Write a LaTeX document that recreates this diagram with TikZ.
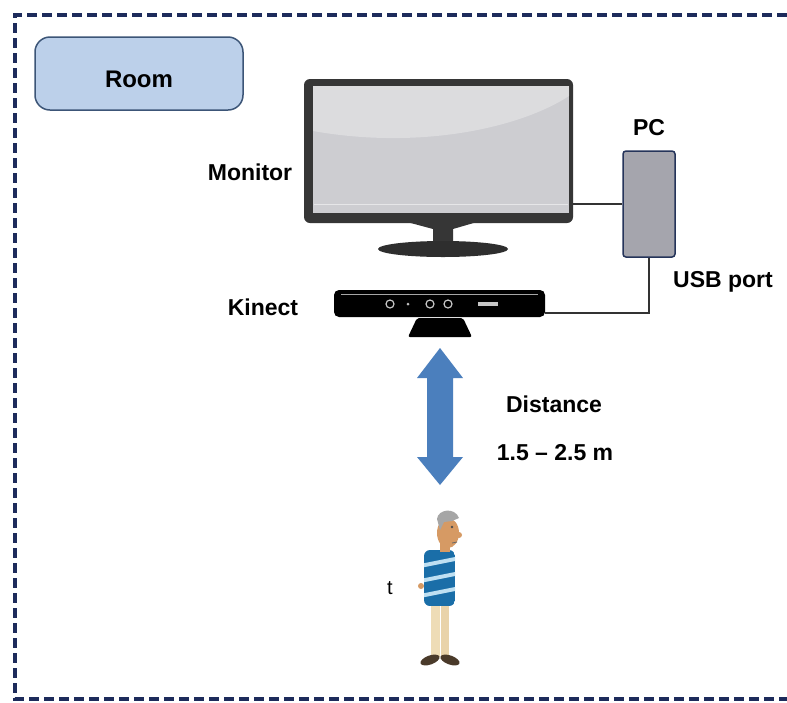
\documentclass[tikz,border=0pt]{standalone}
\usepackage{fontspec}
\setmainfont{Liberation Sans}
\usetikzlibrary{positioning}
\definecolor{roomline}{HTML}{1D2B5B}
\definecolor{roomfill}{HTML}{BCD0EA}
\definecolor{roomdraw}{HTML}{3C5577}
\definecolor{pcfill}{HTML}{A5A5AD}
\definecolor{pcdraw}{HTML}{25345A}
\definecolor{bezelgray}{HTML}{363636}
\definecolor{screengray}{HTML}{CDCDD1}
\definecolor{arrowblue}{HTML}{4B7FBD}
\definecolor{shirtblue}{HTML}{1A6EA8}
\definecolor{stripe}{HTML}{BFE0F2}
\definecolor{trousers}{HTML}{EEDCB6}
\definecolor{skin}{HTML}{D69A64}
\definecolor{shoe}{HTML}{4A3A2A}
\tikzset{lbl/.style={font=\bfseries\fontsize{23}{27}\selectfont, inner sep=0pt, anchor=base},
         roombox/.style={draw=roomdraw, fill=roomfill, line width=1.5pt, rounded corners=15pt, minimum width=208pt, minimum height=73pt},
         pcbox/.style={draw=pcdraw, fill=pcfill, line width=1.5pt, rounded corners=3pt, minimum width=52pt, minimum height=106pt},
         bezel/.style={fill=bezelgray, rounded corners=6pt, minimum width=269pt, minimum height=144pt},
         kinectbar/.style={fill=black, rounded corners=5pt, minimum width=211pt, minimum height=27pt},
         cable/.style={draw=black!80, line width=2pt}}

\begin{document}
\begin{tikzpicture}[x=1pt, y=-1pt]
        \useasboundingbox[fill=white] (0,0) rectangle (787,702);
        \draw[roomline, line width=4pt, dash pattern=on 10pt off 5pt] (787,15)--(15,15)--(15,699)--(787,699);

        \node[roombox](room)at(139,73.5){};
        \node[lbl, font=\bfseries\fontsize{24}{28}\selectfont]at(139,87){Room};

        % monitor
        \node[bezel](monitor)at(438.5,151){};
        \fill[screengray](313,86) rectangle (569,213);
        \fill[white, opacity=0.3](313,86)--(569,86)--(569,96) .. controls (520,128) and (420,150) .. (313,131)--cycle;
        \draw[white, opacity=0.5, line width=0.8pt](314,204)--(568,204);
        \fill[bezelgray](407,222)--(477,222)--(453,229)--(453,245)--(433,245)--(433,229)--cycle;
        \fill[bezelgray!85!black](443,249) ellipse [x radius=65pt, y radius=8pt];
        \node[lbl]at(250,180){Monitor};

        % pc and cables
        \node[pcbox](pc)at(649,204){};
        \node[lbl]at(pc.north)[yshift=15pt]{PC};
        \node[lbl]at(723,287){USB port};

        \node[kinectbar](kinect)at(439.5,303.5){};
        \draw[gray!70, line width=1pt](341,294)--(538,294);
        \foreach \cx in {390,430,448}
            \draw[gray!45, line width=1.2pt](\cx,304) circle (4pt);
        \fill[gray!50](408,304) circle (1.5pt);
        \fill[gray!45](478,302) rectangle (498,306);
        \fill[black, rounded corners=2pt](417,318)--(463,318)--(472,337)--(408,337)--cycle;
        \node[lbl]at(263,315){Kinect};

        \draw[cable](pc.west)--(pc.west -| monitor.east);
        \draw[cable](pc.south)--(pc.south |- 0,313)--([yshift=-9.5pt]kinect.east);

        % distance arrow
        \fill[arrowblue](440,348)--++(23,30)--++(-10,0)--++(0,79)--++(10,0)--(440,485)--++(-23,-28)--++(10,0)--++(0,-79)--++(-10,0)--cycle;
        \node[lbl]at(554,412){Distance};
        \node[lbl]at(555,460){1.5 -- 2.5 m};

        % person
        \fill[trousers](431,603) rectangle (440,657);
        \fill[trousers!90!brown](441,603) rectangle (449,657);
        \fill[shoe, rotate around={20:(430,660)}](430,660) ellipse [x radius=10pt, y radius=4.5pt];
        \fill[shoe, rotate around={-20:(450,660)}](450,660) ellipse [x radius=10pt, y radius=4.5pt];
        \begin{scope}
            \clip[rounded corners=6pt](424,550) rectangle (455,606);
            \fill[shirtblue](424,550) rectangle (455,606);
            \foreach \sy in {560,575,590}
                \fill[stripe](420,\sy+4)--(460,\sy-4)--(460,\sy)--(420,\sy+8)--cycle;
        \end{scope}
        \fill[skin](421,586) circle (3pt);
        \fill[skin](440,542) rectangle (450,552);
        \fill[skin](448,533) ellipse [x radius=11pt, y radius=15pt];
        \fill[skin](459,535) circle (3pt);
        \fill[gray!70](437,519) .. controls (438,509) and (455,507) .. (459,518)--(452,521)--(444,522)--(440,530)--cycle;
        \fill[black!70](452,527) circle (1.3pt);
        \draw[black!60, line width=0.8pt](452,543)--(457,542);

        \node[font=\fontsize{20}{24}\selectfont, inner sep=0pt]at(390,588){t};
    \end{tikzpicture}
\end{document}
